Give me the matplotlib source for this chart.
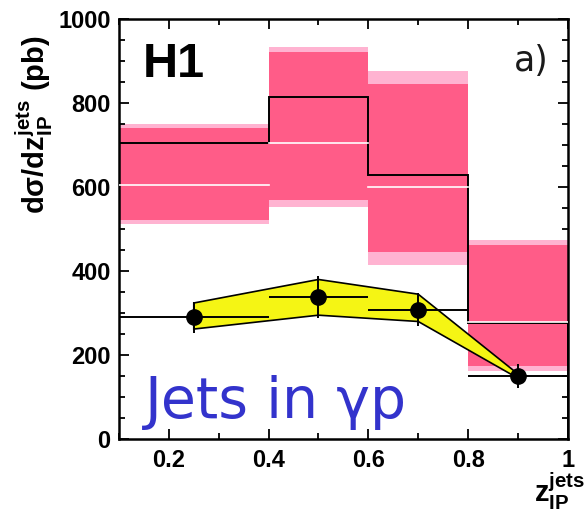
import matplotlib
matplotlib.use("Agg")
import matplotlib.pyplot as plt
import numpy as np
from matplotlib.ticker import MultipleLocator

plt.rcParams['font.family'] = ['Liberation Sans', 'DejaVu Sans']
plt.rcParams['mathtext.fontset'] = 'custom'
plt.rcParams['mathtext.rm'] = 'Liberation Sans:bold'
plt.rcParams['mathtext.bf'] = 'Liberation Sans:bold'
plt.rcParams['mathtext.it'] = 'Liberation Sans:bold'

# bin edges in z_IP^jets
edges = [0.1, 0.4, 0.6, 0.8, 1.0]

# prediction bands (pb): outer light band, inner dark band, central white line
outer_lo = [512, 552, 414, 163]
outer_hi = [750, 934, 876, 474]
inner_lo = [521, 569, 445, 173]
inner_hi = [740, 922, 845, 463]
centre = [605, 705, 600, 278]

# black step histogram
step_vals = [705, 814, 629, 277]

# data points
x_data = [0.25, 0.5, 0.7, 0.9]
y_data = [290, 339, 308, 150]
y_err = [37, 50, 39, 28]

# yellow band around the data
band_up = [324, 380, 345, 155]
band_lo = [262, 295, 280, 145]

xtick_vals = [0.2, 0.4, 0.6, 0.8, 1.0]
xtick_labels = ['0.2', '0.4', '0.6', '0.8', '1']
ytick_vals = [0, 200, 400, 600, 800, 1000]

LIGHT_PINK = '#ffb3d1'
DARK_PINK = '#ff5c88'
YELLOW = '#f5f514'

fig = plt.figure(figsize=(5.86, 5.13), dpi=100)
ax = fig.add_axes([0.203, 0.144, 0.766, 0.819])

for i in range(len(edges) - 1):
    x0, x1 = edges[i], edges[i + 1]
    ax.fill_between([x0, x1], outer_lo[i], outer_hi[i], color=LIGHT_PINK, lw=0, zorder=1)
    ax.fill_between([x0, x1], inner_lo[i], inner_hi[i], color=DARK_PINK, lw=0, zorder=2)

# step histogram
ax.stairs(step_vals, edges, color='black', lw=1.4, zorder=3)

# central white lines
for i in range(len(edges) - 1):
    ax.plot([edges[i], edges[i + 1]], [centre[i], centre[i]], color='white', lw=1.2, zorder=4)

# yellow band
poly_x = list(x_data) + list(x_data[::-1])
poly_y = list(band_up) + list(band_lo[::-1])
ax.fill(poly_x, poly_y, facecolor=YELLOW, edgecolor='black', lw=1.2, zorder=5)

# data with bin-width horizontal bars
x_lo = [x - e for x, e in zip(x_data, edges[:-1])]
x_hi = [e - x for x, e in zip(x_data, edges[1:])]
ax.errorbar(x_data, y_data, yerr=y_err, xerr=[x_lo, x_hi], fmt='o', color='black',
            ms=11, lw=1.4, capsize=0, zorder=6)

ax.set_xlim(0.1, 1.0)
ax.set_ylim(0, 1000)
ax.xaxis.set_minor_locator(MultipleLocator(0.1))
ax.yaxis.set_minor_locator(MultipleLocator(50))
ax.tick_params(which='both', direction='in', top=True, right=True, width=1.3)
ax.tick_params(which='major', length=7, labelsize=17)
ax.tick_params(which='minor', length=4)
ax.tick_params(axis='x', pad=7)
ax.tick_params(axis='y', pad=6)
ax.set_xticks(xtick_vals)
ax.set_xticklabels(xtick_labels, fontweight='bold')
ax.set_yticks(ytick_vals)
ax.set_yticklabels([str(v) for v in ytick_vals], fontweight='bold')
for s in ax.spines.values():
    s.set_linewidth(1.8)

fig.text(0.058, 0.93, r'$\mathrm{d\sigma/dz_{IP}^{jets}\ (pb)}$', rotation=90,
         ha='center', va='top', fontsize=21)
fig.text(0.998, 0.002, r'$\mathrm{z_{IP}^{jets}}$', ha='right', va='bottom', fontsize=21)

ax.text(0.052, 0.945, 'H1', transform=ax.transAxes, fontsize=35, fontweight='bold',
        ha='left', va='top')
ax.text(0.957, 0.94, 'a)', transform=ax.transAxes, fontsize=25, family='DejaVu Sans',
        ha='right', va='top', color='#1a1a1a')
ax.text(0.152, 50, 'Jets in γp', fontsize=41,
        family='DejaVu Sans', color='#3333cc', ha='left', va='baseline')

fig.savefig('out.png', dpi=100)
